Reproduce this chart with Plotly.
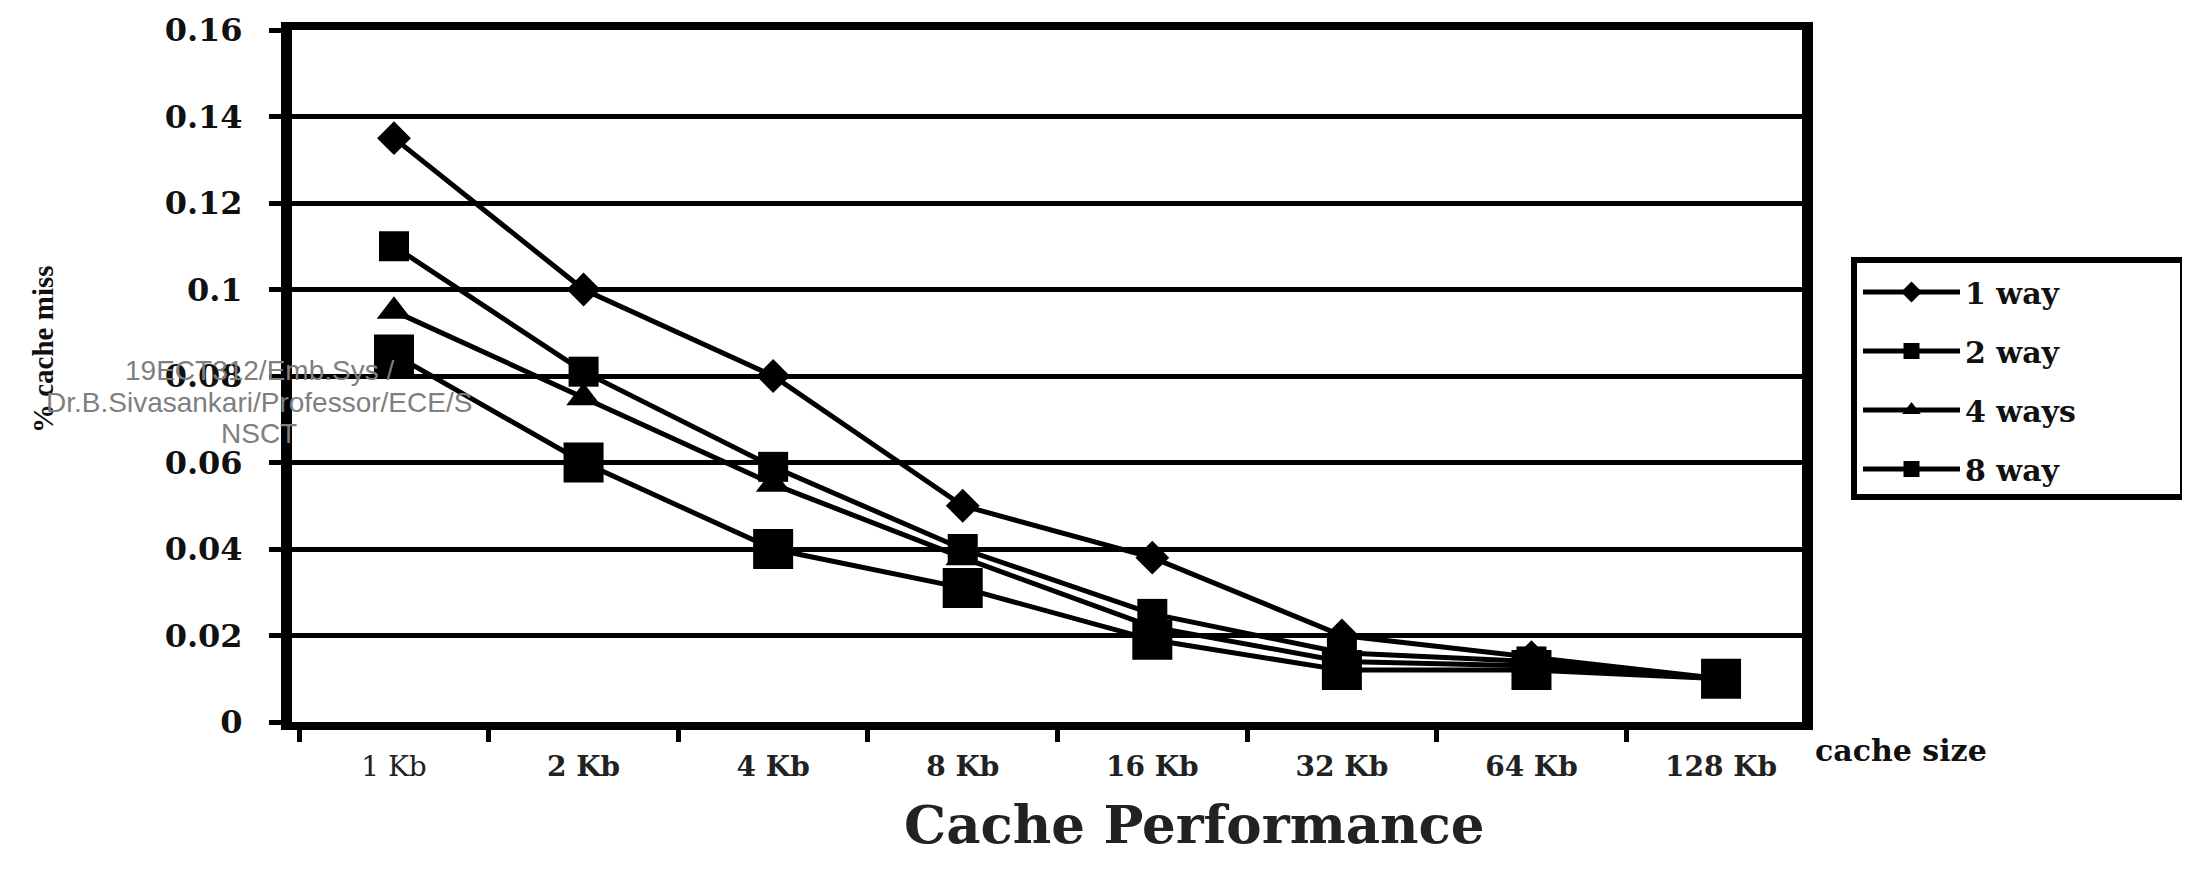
import plotly.graph_objects as go

categories = ["1 Kb", "2 Kb", "4 Kb", "8 Kb", "16 Kb", "32 Kb", "64 Kb", "128 Kb"]
tick_labels_x = ["1 Kb", "<b>2 Kb</b>", "<b>4 Kb</b>", "<b>8 Kb</b>", "<b>16 Kb</b>",
                 "<b>32 Kb</b>", "<b>64 Kb</b>", "<b>128 Kb</b>"]
way1 = [0.135, 0.100, 0.080, 0.050, 0.038, 0.020, 0.015, 0.010]
way2 = [0.110, 0.081, 0.059, 0.040, 0.025, 0.016, 0.014, 0.010]
way4 = [0.095, 0.075, 0.055, 0.038, 0.022, 0.014, 0.013, 0.010]
way8 = [0.085, 0.060, 0.040, 0.031, 0.019, 0.012, 0.012, 0.010]
series_names = ["1 way", "2 way", "4 ways", "8 way"]
y_ticks = [0, 0.02, 0.04, 0.06, 0.08, 0.1, 0.12, 0.14, 0.16]
y_tick_text = ["0", "0.02", "0.04", "0.06", "0.08", "0.1", "0.12", "0.14", "0.16"]

SERIF = "Liberation Serif, Times New Roman, serif"
WIDE = "DejaVu Serif, serif"
symbols = ["diamond", "square", "triangle-up", "square"]
sizes = [26, 30, 30, 40]

# plot-area pixel geometry (page coords) used to convert to paper fractions
PAGE_OFF = 8
PX_L, PX_R, PX_T, PX_B = 292, 1802, 30, 722
W, H = 2190, 881
def px_x(p):
    return (p - PX_L) / (PX_R - PX_L)
def px_y(p):
    return (PX_B - p) / (PX_B - PX_T)

fig = go.Figure()
for i, (name, vals) in enumerate(zip(series_names, [way1, way2, way4, way8])):
    fig.add_trace(go.Scatter(
        x=categories, y=vals, name=name, mode="lines+markers",
        legendgroup=name,
        line=dict(color="black", width=5),
        marker=dict(symbol=symbols[i], size=sizes[i], color="black"),
    ))

fig.update_layout(
    width=W, height=H,
    margin=dict(l=PX_L - PAGE_OFF, r=W - PX_R + PAGE_OFF,
                t=PX_T - PAGE_OFF, b=H - PX_B + PAGE_OFF),
    paper_bgcolor="white", plot_bgcolor="white",
    showlegend=True,
    legend=dict(
        x=px_x(1858), y=px_y(266), xanchor="left", yanchor="top",
        borderwidth=0, bgcolor="rgba(0,0,0,0)",
        font=dict(family=WIDE, size=30, color="#111", weight="bold"),
        tracegroupgap=17, itemwidth=97,
    ),
    font=dict(family=SERIF, color="#111"),
    shapes=[dict(
        type="rect", xref="paper", yref="paper",
        x0=px_x(1854), x1=px_x(2183), y0=px_y(497), y1=px_y(260),
        line=dict(color="black", width=6), fillcolor="rgba(0,0,0,0)",
        layer="above",
    )],
)

fig.update_xaxes(
    type="category", range=[-0.538, 7.427], automargin=False,
    tickmode="array", tickvals=categories, ticktext=tick_labels_x,
    tickson="boundaries", ticks="outside", ticklen=12, tickwidth=5, tickcolor="black",
    showline=True, linewidth=8, linecolor="black", mirror=True,
    showgrid=False, zeroline=False,
    tickfont=dict(family=WIDE, size=28, color="#222"),
    ticklabelstandoff=12,
)
fig.update_yaxes(
    range=[0, 0.16], automargin=False,
    tickmode="array", tickvals=y_ticks, ticktext=y_tick_text,
    ticks="outside", ticklen=12, tickwidth=5, tickcolor="black",
    showline=True, linewidth=11, linecolor="black", mirror=True,
    showgrid=True, gridcolor="black", gridwidth=5, zeroline=False,
    tickfont=dict(family=WIDE, size=32, color="#111", weight="bold"),
    ticklabelstandoff=20,
)

fig.add_annotation(
    text="<b>Cache Performance</b>", xref="paper", yref="paper",
    x=px_x(1194), y=px_y(824), xanchor="center", yanchor="middle", showarrow=False,
    font=dict(family=WIDE, size=53, color="#222"),
)
fig.add_annotation(
    text="<b>cache size</b>", xref="paper", yref="paper",
    x=px_x(1813), y=px_y(750), xanchor="left", yanchor="middle", showarrow=False,
    font=dict(family=WIDE, size=30, color="#111"),
)
fig.add_annotation(
    text="<b>% cache miss</b>", xref="paper", yref="paper",
    x=px_x(43), y=px_y(349), xanchor="center", yanchor="middle", showarrow=False,
    textangle=-90,
    font=dict(family=SERIF, size=29, color="#111"),
)
watermark = ["19ECT312/Emb.Sys /", "Dr.B.Sivasankari/Professor/ECE/S", "NSCT"]
wm_y = [370, 402, 433]
for line, ypx in zip(watermark, wm_y):
    fig.add_annotation(
        text=line, xref="paper", yref="paper",
        x=px_x(259), y=px_y(ypx),
        xanchor="center", yanchor="middle", showarrow=False,
        font=dict(family="Liberation Sans, Arial, sans-serif", size=28, color="#7f7f7f"),
    )

fig.write_html("out.html")
